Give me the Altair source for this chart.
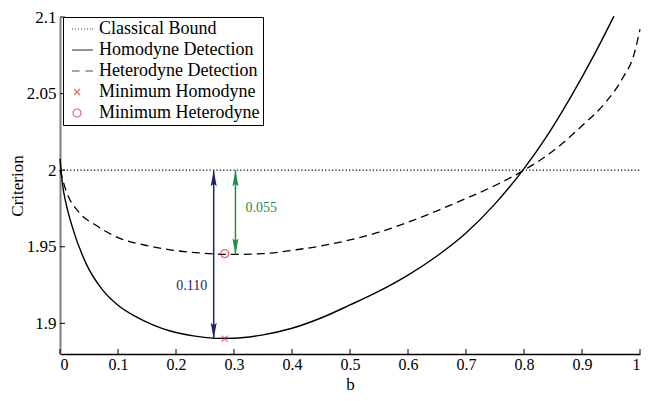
import altair as alt
import pandas as pd

# ---- data ----
homo_b = [0, 0.005, 0.01, 0.022, 0.045, 0.073, 0.10, 0.13, 0.16, 0.19, 0.23, 0.27, 0.30,
          0.35, 0.40, 0.45, 0.50, 0.55, 0.60, 0.65, 0.70, 0.75, 0.80, 0.84, 0.88, 0.92, 0.955]
homo_v = [2.0075, 1.989, 1.979, 1.962, 1.939, 1.922, 1.9118, 1.9045, 1.899, 1.895, 1.8918, 1.8902, 1.8903,
          1.8925, 1.8968, 1.9035, 1.912, 1.921, 1.9315, 1.944, 1.959, 1.978, 2.001, 2.0226, 2.0474, 2.0746, 2.1005]

het_b = [0, 0.011, 0.034, 0.062, 0.10, 0.147, 0.19, 0.24, 0.29, 0.35, 0.406, 0.45, 0.50, 0.55,
         0.60, 0.65, 0.70, 0.75, 0.80, 0.85, 0.90, 0.94, 0.97, 0.99, 1.0]
het_v = [2.000, 1.986, 1.972, 1.964, 1.956, 1.951, 1.948, 1.946, 1.945, 1.9455, 1.948, 1.9505, 1.9545, 1.9595,
         1.966, 1.9735, 1.9815, 1.990, 2.000, 2.0125, 2.029, 2.044, 2.060, 2.076, 2.092]

bound_b = [0, 1]
bound_v = [2.0, 2.0]

legend_names = ["Classical Bound", "Homodyne Detection", "Heterodyne Detection",
                "Minimum Homodyne", "Minimum Heterodyne"]
min_series = ["Minimum Homodyne", "Minimum Heterodyne"]
min_b = [0.284, 0.284]
min_v = [1.890, 1.9455]

arrow_b = [0.265, 0.3025]
arrow_top = [2.0, 2.0]
arrow_bottom = [1.890, 1.945]
arrow_colors = ["#1e2070", "#1a9041"]
arrow_labels = ["0.110", "0.055"]
label_b = [0.227, 0.32]
label_v = [1.9246, 1.975]

x_ticks = [0, 0.1, 0.2, 0.3, 0.4, 0.5, 0.6, 0.7, 0.8, 0.9, 1]
y_ticks = [1.9, 1.95, 2.0, 2.05, 2.1]

# ---- styling ----
FONT = "Liberation Serif"
W, H = 580, 337
RED = "#e8202a"

legend_paths = [
    "M-1,0H-0.8M-0.4,0H-0.2M0.2,0H0.4M0.8,0H1M1.4,0H1.6M2,0H2.2M2.6,0H2.8M3.0,0H3.2",
    "M-1,0H3.2",
    "M-1,0H0.5M1.7,0H3.2",
    "M-0.6,-0.6L0.6,0.6M-0.6,0.6L0.6,-0.6",
    "M0.8,0A0.8,0.8,0,1,1,-0.8,0A0.8,0.8,0,1,1,0.8,0",
]
legend_colors = ["black", "black", "black", RED, RED]

xs = alt.Scale(domain=[0, 1], nice=False, zero=False)
ys = alt.Scale(domain=[1.88, 2.1], nice=False, zero=False)

x_axis = alt.Axis(values=x_ticks, format="~g", grid=False, ticks=False, tickSize=0,
                  labelFont=FONT, labelFontSize=16, labelColor="black", labelPadding=2,
                  domainColor="black", domainWidth=1.3,
                  title="b", titleFont=FONT, titleFontSize=17, titleFontWeight="normal",
                  titleColor="black", titleY=35, titleBaseline="alphabetic")
y_axis = alt.Axis(values=y_ticks, format="~g", grid=False, ticks=False, tickSize=0,
                  labelFont=FONT, labelFontSize=17, labelColor="black", labelPadding=4,
                  domainColor="#808080", domainWidth=2,
                  title="Criterion", titleFont=FONT, titleFontSize=17, titleFontWeight="normal",
                  titleColor="black", titleX=-43, titleY=H / 2, titleBaseline="middle",
                  titleAlign="center", titleAngle=270)

X = alt.X("b:Q", scale=xs, axis=x_axis)
Y = alt.Y("v:Q", scale=ys, axis=y_axis)

homo_df = pd.DataFrame({"b": homo_b, "v": homo_v})
het_df = pd.DataFrame({"b": het_b, "v": het_v})
bound_df = pd.DataFrame({"b": bound_b, "v": bound_v})
min_df = pd.DataFrame({"b": min_b, "v": min_v, "series": min_series})
arrow_df = pd.DataFrame({"b": arrow_b, "v": arrow_top, "v2": arrow_bottom, "col": arrow_colors})
arrow_top_df = pd.DataFrame({"b": arrow_b, "v": arrow_top, "col": arrow_colors})
arrow_bot_df = pd.DataFrame({"b": arrow_b, "v": arrow_bottom, "col": arrow_colors})
label_df = pd.DataFrame({"b": label_b, "v": label_v, "txt": arrow_labels, "col": arrow_colors})
xt_df = pd.DataFrame({"b": x_ticks})
yt_df = pd.DataFrame({"v": y_ticks})

bound = alt.Chart(bound_df).mark_line(color="black", strokeWidth=1.2, strokeDash=[1.2, 2.2]).encode(x=X, y=Y)
het = alt.Chart(het_df).mark_line(color="black", strokeWidth=1.3, strokeDash=[8, 5],
                                  interpolate="monotone").encode(x=X, y=Y)
homo = alt.Chart(homo_df).mark_line(color="black", strokeWidth=1.4,
                                    interpolate="monotone").encode(x=X, y=Y)

leg = alt.Legend(title=None, orient="none", legendX=3, legendY=0, padding=3,
                 fillColor="white", strokeColor="black", labelFont=FONT, labelFontSize=18,
                 labelColor="black", labelOffset=13, rowPadding=3, symbolStrokeWidth=1.2,
                 symbolOffset=2, labelLimit=400)
markers = alt.Chart(min_df).mark_point(filled=False, size=100, strokeWidth=1.2).encode(
    x=X, y=Y,
    shape=alt.Shape("series:N", scale=alt.Scale(domain=legend_names, range=legend_paths), legend=leg),
    stroke=alt.Stroke("series:N", scale=alt.Scale(domain=legend_names, range=legend_colors), legend=leg),
)

arrows = alt.Chart(arrow_df).mark_rule(strokeWidth=1.5).encode(
    x=X, y=Y, y2="v2:Q", color=alt.Color("col:N", scale=None))
heads_up = alt.Chart(arrow_top_df).mark_point(
    shape="M0,0L-0.3,1.6L0,1.35L0.3,1.6Z", size=400, filled=True, opacity=1, strokeWidth=0).encode(
    x=X, y=Y, fill=alt.Fill("col:N", scale=None))
heads_dn = alt.Chart(arrow_bot_df).mark_point(
    shape="M0,0L-0.3,-1.6L0,-1.35L0.3,-1.6Z", size=400, filled=True, opacity=1, strokeWidth=0).encode(
    x=X, y=Y, fill=alt.Fill("col:N", scale=None))
label_a = alt.Chart(label_df.iloc[[0]]).mark_text(font=FONT, fontSize=14, baseline="middle", align="center").encode(
    x=X, y=Y, text="txt:N", color=alt.Color("col:N", scale=None))
label_b_ = alt.Chart(label_df.iloc[[1]]).mark_text(font=FONT, fontSize=14, baseline="middle", align="left").encode(
    x=X, y=Y, text="txt:N", color=alt.Color("col:N", scale=None))

xticks = alt.Chart(xt_df).mark_rule(color="black", strokeWidth=1).encode(
    x=X, y=alt.value(H), y2=alt.value(H - 5))
yticks = alt.Chart(yt_df).mark_rule(color="black", strokeWidth=1).encode(
    y=Y, x=alt.value(0), x2=alt.value(5))

chart = alt.layer(bound, het, homo, arrows, heads_up, heads_dn, label_a, label_b_, xticks, yticks, markers).properties(
    width=W, height=H,
    padding={"left": 52, "top": 9, "right": 5, "bottom": 39},
    autosize=alt.AutoSizeParams(type="none"),
).configure_view(strokeWidth=0)

chart.save("out.html", embed_options={"renderer": "svg", "actions": False})
